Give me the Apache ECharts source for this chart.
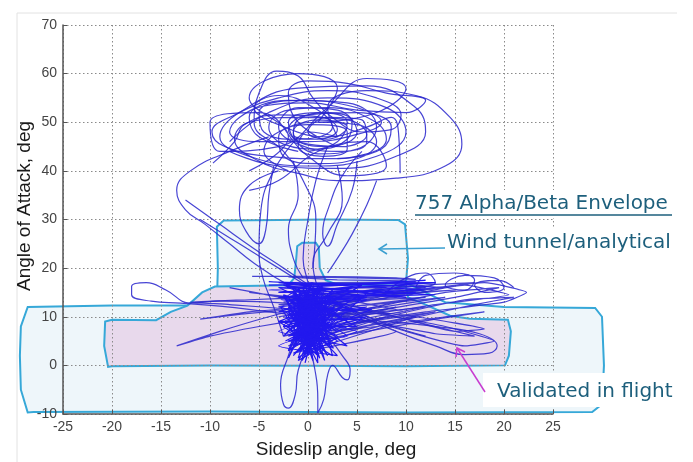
<!DOCTYPE html>
<html>
<head>
<meta charset="utf-8">
<script src="https://cdn.jsdelivr.net/npm/echarts@6/dist/echarts.min.js"></script>
<style>
html,body{margin:0;padding:0;background:#fff;}
#chart{width:693px;height:462px;}
</style>
</head>
<body>
<div id="chart"></div>
<script>
// ---- axis ranges ----
const xRange = [-25, 25, 5];
const yRange = [-10, 70, 10];
const xTitle = 'Sideslip angle, deg';
const yTitle = 'Angle of Attack, deg';
const titleText = '757 Alpha/Beta Envelope';
const windText = 'Wind tunnel/analytical';
const flightText = 'Validated in flight';

// ---- envelope outlines (beta, alpha) ----
const windTunnel = [
  [-28.6,-9.7],[-29.3,-5],[-29.4,2],[-29.3,8],[-28.6,12],[-20,12.3],[-12,12.3],[-9.3,12.5],
  [-9.2,20],[-9.3,28.5],[-8.6,29.8],[-3,29.9],[2,30],[9.2,29.9],[9.9,29],[10.2,22],[10,17],
  [12,15],[14,13],[20,12],[29.3,11.8],[30,10],[30.2,0],[30,-8],[29,-9.6],[10,-9.7],[-10,-9.5],[-28,-9.6]
];
const validated = [
  [-20.4,-0.3],[-20.8,4],[-20.7,9],[-20,9.4],[-15.5,9.3],[-14,11],[-12.3,12.3],[-10.8,15],
  [-9.5,16.2],[-5,16.4],[-2,16.5],[-1.4,18],[-1.2,22],[-1.1,24.5],[-0.6,25.2],[0.8,25.2],
  [1.1,24.3],[1.2,20],[1.8,17.5],[3,16.6],[8,16.5],[10,16.2],[10.2,14],[12,12.5],[14.5,10.2],[16.5,9.6],
  [20.4,9.4],[20.7,7],[20.5,2],[20.1,0],[10,-0.2],[0,-0.1],[-10,0],[-20,-0.2]
];

// ---- flight trajectories (beta, alpha) ----
const trajUp1 = [
  [0.5,20],[0.8,30],[-0.5,38],[-2.5,44],[-5.5,50],[-5,56],[-3.2,60.5],[-1,59.5],[0.5,55],[2.5,51],
  [5.5,48],[8.5,48.5],[9.5,51.5],[7,55],[2,56.5],[-3,55],[-7.5,51.5],[-9.8,48],[-8.5,45],[-4,43],
  [1.5,42.5],[6,43.5],[8,46.5],[6.5,50.5],[2,53],[-2,52.5],[-4,49],[-2.5,45.5],[1,44.5],[4,46.5],
  [4.5,50],[2,52],[-1,50.5],[-1.5,47.5],[1,46.5],[3,48.5],[1.5,51],[-3,51.5],[-6.5,49.5],[-7.5,46],[-9.7,41.6]
];
const trajUp2 = [
  [-2,40],[-4.5,44],[-3,48],[1,50],[5,49.5],[7,46],[5,42.5],[1,41.5],[-2.5,43],[-3,47],[0,49.5],
  [4,48],[4,44.5],[1.5,43],[-1,45],[0,48],[3,47],[2,53],[6,56.5],[11,55.5],[14.5,51],[15.7,45.5],
  [14,41],[9,38.5],[3,38],[-1,39.5],[-5,42],[-7.5,46.5],[-6,50],[-1,51],[4,50.5],[6,47.5],[3.5,45],
  [0,45.5],[-2,48.5],[0,51.5],[5,52],[8.5,49],[7.5,44.5],[3,42.5]
];
const trajUp3 = [
  [3,45],[-1,50],[-2,56],[0,58.5],[4,58],[8,56],[12,54.5],[10,52],[5,52.5],[0,54],[-4,53.5],[-7,51],
  [-8,48],[-5,46],[0,46],[5,47.5],[7.5,50],[4,53.5],[-1,54.5],[-5,52],[-4.5,48],[-1,46.5],[2.5,49],
  [1,52.5],[-3,55.5],[-5.5,53],[-3,49.5],[2,47],[6,49],[8.5,51],[9.3,46],[9.4,39.5]
];
const trajUp4 = [
  [0,44],[3,46],[4,50],[1,52],[-2,50],[-1,46],[2,45],[5,48],[3,52.5],[-1,53],[-3,49],[-1,45.5],[3,44],
  [6,46],[5.5,50.5],[2,51],[0,48],[2,46.5],[4,49],[1,50.5],[-1.5,48],[1,43.5],[5,44.5],[7,49],[4,54],
  [-2,54.5],[-6,51],[-5,47],[-1,44]
];
const trajUp5 = [[-8,46],[-4,52],[2,55],[8,53],[10,48],[7,43],[0,41],[-6,43],[-9,47],[-7,52],[-1,57],[6,57.5],[11,53],[12,48],[9,43],[3,40.5],[-3,41],[-8,44]];
const trajUp6 = [[-6,40],[-2,47],[-6,55],[-1,60],[3,57],[1,50],[7,52],[10,57],[6,59],[2,53],[-3,45],[-9,44],[-10,50],[-5,52],[0,43],[4,39],[8,41],[6,46],[1,44],[-3,38],[-6,36]];
const trajBigLeft = [[-4,47],[-8,44],[-12,40],[-13.4,36],[-12.5,32],[-10.5,29],[-8,25],[-5.5,21],[-2,16.5],[1,14]];
const trajV1 = [[-1,47],[-3.5,40],[-4.8,32],[-5,24],[-4.6,18],[-3.5,12],[-2.5,6]];
const trajV2 = [[2,45],[0.8,38],[0,30],[-0.5,22],[0,17],[0.5,12]];
const trajV3 = [[5,42],[4.5,36],[3,29],[2,24.5],[1.5,27],[2.2,33],[3.5,39],[5.5,44]];
const trajV4 = [[-3,40],[-6,37],[-7,32],[-6.3,27.5],[-5,25],[-4.3,28],[-4,35],[-3.5,41]];
const trajV5 = [[7,38],[6,33],[4.5,27],[3,22],[2,19]];
const trajV6 = [[-1.5,42],[-1,35],[-2,28],[-1.5,22],[-0.5,18]];
const trajV7 = [[3,41],[3.5,34],[2,27],[0.5,21],[1,16]];
const trajDiag = [[-12.5,34],[-9,29],[-5.5,24],[-2.5,20],[0.5,16],[4,12],[8,8.5],[12,6]];
const trajEllipse = [[-11,30],[-7,25],[-3,20],[1,15],[5,10.5],[9,7],[13,4],[16,2.2],[18.5,2.5],[19.3,4],[17.5,6.5],[13,8],[8,9],[3,9.5],[0,9]];
const trajHoriz = [[-5.7,18.3],[0,18.3],[5,18.2],[9,18],[11,17.7],[7,17.9],[2,18.1],[-2,18.2],[3,17.6],[10,17.4]];
const trajLeftLoop = [[2,12],[-4,13],[-9,13.2],[-12,12.8],[-14.5,15.5],[-16.5,17],[-18,16.2],[-18,14.5],[-16,13.2],[-13,12.8],[-9,12.2],[-4,11],[0,10]];
const trajFanLeft = [[1,10],[-5,8],[-10,6],[-13.4,4],[-9,7],[-4,10],[0,12],[-6,11],[-11,9.5],[-7,10.5],[-2,11.5],[-8,12.5],[-12,13],[-6,13.5],[0,14]];
const trajFanRight = [
  [0,6],[8,10],[16,13.5],[21,14],[17,12.5],[9,9],[1,5],[-1,9],[7,12],[14,15],[19.5,16],[15,14],[6,11],[0,10],
  [2,12],[10,15],[18,17],[22.3,15],[20,13],[12,11],[3,8],[-2,4],[6,7],[13,9.5],[18,11],[14,10],[7,8],[1,7],
  [0,12],[9,14],[16,16.5],[20.5,14.5],[13,12.5],[4,10],[-1,13],[5,15],[12,16.5],[17,17],[11,15.5],[2,13.5]
];
const trajSweep = [
  [-3,14],[12,16],[-2,12],[11,15],[-3,10],[10,13.5],[-2,8],[9,12],[-2.5,6],[8,10],[-1.5,4],[7,9],[-2,16],
  [13,17],[-3,15],[10,16.5],[-1,11],[14,14],[-2,9],[12,12],[-1,7],[13,11],[-2,5],[11,10],[0,3],[9,7],
  [-1,13],[15,15.5],[-3,12.5],[12,14],[-2,10.5],[10,11],[-1,15.5],[8,16],[-2.5,13],[14,16],[0,17],
  [11,17.2],[-1.5,16.8],[6,17]
];
const trajBand = [[-4,16.5],[13,17],[-3,15],[12,15.5],[-4,17.2],[11,16.2],[-3,14],[13,14.5],[-2,16],[12,17.5],[-4,15.5],[10,14],[-3,17],[13,16],[-2,13.5],[11,15]];
const trajSlant = [
  [-8,16],[2,12],[10,7],[16,4],[19,5],[14,8],[6,11],[-2,14],[-6,15],[4,12.5],[12,8.5],[17,6],[13,6.5],
  [5,9.5],[-3,12],[1,13.5],[9,10],[15,7],[18,7.5],[11,10],[3,12]
];
const trajCurls = [[8,15],[10,18],[12,19],[13,17],[11,16],[12,18.5],[15,19],[17,17.5],[16,15.5],[14,16.5],[16,18.5],[19,18],[20,16],[18,15],[17,16.5],[19.5,17.5],[21,16]];
const trajDown = [[-1,8],[-2,2],[-2.8,-4],[-2.5,-8],[-2,-8.8],[-1.3,-6],[-1,-1],[0,3],[0.8,-2],[1,-7],[1,-9.8],[1.6,-7],[2,-2],[2.5,0],[3.5,-2.5],[4,-3],[4.3,-1],[3.5,2],[2,6]];
const trajMass = [
  [0,8],[2.5,14],[-1.5,4],[1.5,16.5],[-2,10],[3,6],[-1,1],[2,11],[-2.5,14.5],[1,0.5],[0.5,17],[-1.5,7],
  [3.5,12],[-2,3],[0.5,15],[2.5,2],[-3,9],[1.5,8],[-0.5,13],[2,4],[-1,16],[0.5,6],[-2,12],[3,9],[-1,1.5],
  [1,14],[-0.5,4],[2.5,15.5],[-2.5,6],[0,11],[1.5,3],[-1.5,15],[2,7],[-0.5,9],[1,2],[-2,8],[0.5,12.5],
  [3,14],[-1,6],[1.8,10],[-0.8,3],[0.2,16],[2.2,5],[-2.2,11],[1.2,13],[-0.3,0.5],[0.8,9],[-1.8,13],
  [2.8,11],[0,4],[-1.2,10],[1.6,15],[-0.6,7],[2.4,8],[-2.8,12],[0.4,2.5],[1,11.5],[-1.5,5.5],[3.2,10],
  [-0.2,14.5],[0.6,5],[-2.4,9],[1.4,12],[0.2,7.5],[-1,11],[2,13],[-0.4,2],[0.9,6.5],[-1.6,16],[2.6,3.5],
  [-0.9,8.5],[1.1,16.5],[-2,1.5],[0.3,10],[1.7,1],[-0.7,12],[2.9,7],[-1.3,14],[0.7,3.5],[0,9]
];
const trajCore = [
  [-1,5],[1,15],[0,2],[2,12],[-2,7],[1.5,4],[-0.5,16],[0.5,1],[-1.5,12],[2.5,9],[-2,3],[1,13],[0,6],
  [-1,14],[2,2],[-0.5,10],[1.5,16],[-2.5,8],[0.5,5],[-1,12.5],[3,13],[-1.5,2],[1,8],[-0.5,15],[2,6],
  [-2,11],[0.8,3],[-0.2,13],[1.8,9],[-1.2,6],[0.4,17],[-2.2,14],[1.2,1.5],[0,9.5],[2.2,14.5],[-1.6,4.5],
  [0.6,11],[-0.8,7],[1.6,5.5],[-0.3,16.5],[0.9,10.5],[-1.9,9.5],[2.7,12],[-0.6,1],[0.3,14],[-1.4,10],
  [1.3,6.5],[0.1,3.5],[-0.9,15],[2.1,10],[-2.3,5],[0.7,8.5],[-0.1,12],[1.4,2.5],[-1.1,8],[0.2,16],
  [2.4,7],[-1.7,13.5],[0.5,4],[-0.4,11]
];
const trajCoreWide = [
  [-3,12],[5,14],[-2,6],[4,9],[-3,16],[6,15],[-1,3],[5,7],[-2.5,10],[6,12],[-3,7],[4,4],[-2,14],[5.5,16.5],
  [-1,9],[6,10],[-3,4],[3,2],[-2,13],[6,13.5],[-2.5,8],[5,8],[-1.5,15],[4.5,16],[-3,11],[6.5,11.5],[-2,5],
  [4,6],[-1,12],[5,11],[-2.5,16.5],[3.5,14.5],[-3,9],[5.5,9.5],[-1.5,2.5],[3,5],[-2,10.5],[6,14],[-2.8,13.5],[4,12.5]
];

const smoothTracks = [trajUp1, trajUp2, trajUp3, trajUp4, trajUp5, trajUp6, trajBigLeft, trajV1, trajV2, trajV3,
  trajV4, trajV5, trajV6, trajV7, trajDiag, trajEllipse, trajLeftLoop, trajCurls, trajDown];
const straightTracks = [trajHoriz, trajFanLeft, trajFanRight, trajSweep, trajSlant];
const coreTracks = [trajMass, trajCore, trajCoreWide, trajBand];

const lineColor = 'rgba(40,36,205,0.85)';
const coreColor = '#2218ee';
const outline = '#36a8d8';

function polySeries(points, fill) {
  return {
    type: 'custom', silent: true, clip: false, z: -1,
    data: [[0, 0]],
    renderItem: function (params, api) {
      const pts = points.map(p => api.coord(p));
      return { type: 'polygon', shape: { points: pts }, style: { fill: fill, stroke: outline, lineWidth: 2 } };
    }
  };
}

const series = [polySeries(windTunnel, '#eef6fa'), polySeries(validated, '#e8d9ec')];
smoothTracks.forEach(t => series.push({
  type: 'line', data: t, showSymbol: false, smooth: 0.45, silent: true,
  lineStyle: { color: lineColor, width: 1.2 }
}));
straightTracks.forEach(t => series.push({
  type: 'line', data: t, showSymbol: false, smooth: 0.15, silent: true,
  lineStyle: { color: lineColor, width: 1.2 }
}));
coreTracks.forEach(t => series.push({
  type: 'line', data: t, showSymbol: false, smooth: 0.1, silent: true,
  lineStyle: { color: coreColor, width: 1.2 }
}));

const chart = echarts.init(document.getElementById('chart'), null, { renderer: 'canvas' });
const tealText = '#1d5f7c';
chart.setOption({
  animation: false,
  backgroundColor: '#fff',
  grid: { left: 63, right: 140, top: 25, bottom: 48 },
  xAxis: {
    type: 'value', min: xRange[0], max: xRange[1], interval: xRange[2],
    axisLine: { onZero: false, lineStyle: { color: '#555', width: 1.5 } },
    axisTick: { inside: true, length: 4, lineStyle: { color: '#555' } },
    axisLabel: { color: '#444', fontSize: 14, fontFamily: 'Liberation Sans', margin: 6 },
    splitLine: { show: true, lineStyle: { color: '#8a8a8a', type: [1.5, 2.5], width: 1 } }
  },
  yAxis: {
    type: 'value', min: yRange[0], max: yRange[1], interval: yRange[2],
    axisLine: { show: true, onZero: false, lineStyle: { color: '#555', width: 1.5 } },
    axisTick: { show: true, inside: true, length: 4, lineStyle: { color: '#555' } },
    axisLabel: { color: '#444', fontSize: 14, fontFamily: 'Liberation Sans', margin: 6 },
    splitLine: { show: true, lineStyle: { color: '#8a8a8a', type: [1.5, 2.5], width: 1 } }
  },
  series: series,
  graphic: [
    { type: 'line', z: 100, shape: { x1: 17, y1: 13, x2: 677, y2: 13 }, style: { stroke: '#e2e2e2', lineWidth: 1 } },
    { type: 'line', z: 100, shape: { x1: 17, y1: 13, x2: 17, y2: 462 }, style: { stroke: '#e2e2e2', lineWidth: 1 } },
    { type: 'text', z: 100, x: 336, y: 450, style: { text: xTitle, font: '19px "Liberation Sans"', fill: '#1a1a1a', textAlign: 'center', textVerticalAlign: 'middle' } },
    { type: 'text', z: 100, x: 25, y: 206, rotation: Math.PI / 2, style: { text: yTitle, font: '19px "Liberation Sans"', fill: '#1a1a1a', textAlign: 'center', textVerticalAlign: 'middle' } },
    { type: 'rect', z: 99, shape: { x: 410, y: 190, width: 270, height: 28 }, style: { fill: '#fff' } },
    { type: 'text', z: 100, x: 415, y: 204, style: { text: titleText, font: '20px "DejaVu Sans"', fill: tealText, textAlign: 'left', textVerticalAlign: 'middle' } },
    { type: 'line', z: 100, shape: { x1: 415, y1: 215, x2: 672, y2: 215 }, style: { stroke: tealText, lineWidth: 1.5 } },
    { type: 'rect', z: 99, shape: { x: 442, y: 229, width: 240, height: 30 }, style: { fill: '#fff' } },
    { type: 'text', z: 100, x: 447, y: 243, style: { text: windText, font: '20px "DejaVu Sans"', fill: tealText, textAlign: 'left', textVerticalAlign: 'middle' } },
    { type: 'polyline', z: 100, shape: { points: [[445, 248], [379, 249]] }, style: { stroke: '#3a9fd0', lineWidth: 1.5 } },
    { type: 'polyline', z: 100, shape: { points: [[387, 244], [379, 249], [387, 254]] }, style: { stroke: '#3a9fd0', lineWidth: 1.5, fill: null } },
    { type: 'rect', z: 99, shape: { x: 483, y: 373, width: 210, height: 34 }, style: { fill: '#fff' } },
    { type: 'text', z: 100, x: 497, y: 392, style: { text: flightText, font: '20px "DejaVu Sans"', fill: tealText, textAlign: 'left', textVerticalAlign: 'middle' } },
    { type: 'polyline', z: 100, shape: { points: [[485, 392], [457, 348]] }, style: { stroke: '#c83cd0', lineWidth: 1.5 } },
    { type: 'polyline', z: 100, shape: { points: [[456, 357], [457, 348], [465, 352]] }, style: { stroke: '#c83cd0', lineWidth: 1.5, fill: null } }
  ]
});
</script>
</body>
</html>
